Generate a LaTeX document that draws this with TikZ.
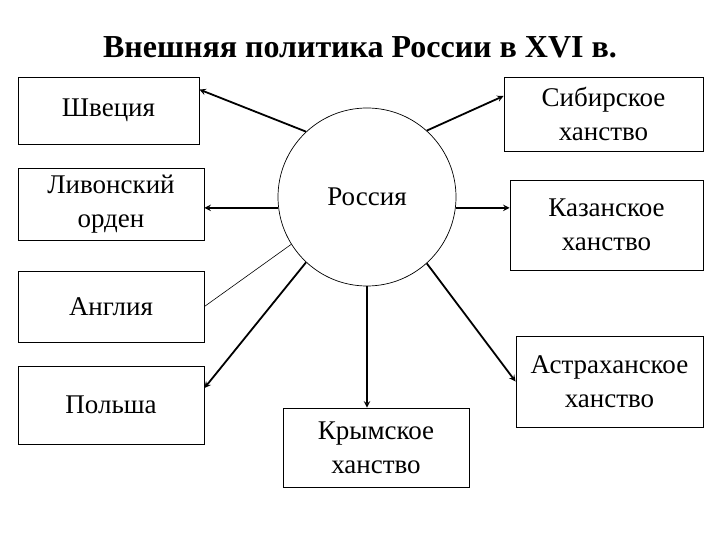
\documentclass[tikz,border=0pt]{standalone}
\usepackage{fontspec}
\setmainfont{Liberation Serif}
\usetikzlibrary{arrows,positioning}

\begin{document}
\begin{tikzpicture}[
  x=1pt, y=-1pt,
  box/.style      = {draw, line width=0.9pt, inner sep=0pt, align=center,
                     font=\fontsize{27}{34}\selectfont},
  arr/.style      = {->, >=stealth, line width=1.8pt},
  thinline/.style = {line width=0.6pt},
]
\useasboundingbox (0,0) rectangle (720,540);
\node[font=\bfseries\fontsize{32}{36}\selectfont] (title) at (360,47)
     {Внешняя политика России в XVI в.};
% centre
\node[circle, draw, line width=0.7pt, minimum size=178pt, inner sep=0pt,
      font=\fontsize{27}{34}\selectfont] (rus) at (367,197) {Россия};
% left column
\node[box, minimum width=181pt, minimum height=67pt] (swe) at (108.5,110.5) {Швеция};
\node[box, minimum width=186pt, minimum height=72pt] (livo) at (111,204) {Ливонский\\орден};
\node[box, minimum width=186pt, minimum height=71pt] (eng) at (111,306.5) {Англия};
\node[box, minimum width=186pt, minimum height=78pt] (pol) at (111,405) {Польша};
% bottom and right
\node[box, minimum width=186pt, minimum height=79pt] (crim) at (376,447.5) {Крымское\\ханство};
\node[box, minimum width=187pt, minimum height=91pt] (astr) at (609.5,381.5) {Астраханское\\ханство};
\node[box, minimum width=199pt, minimum height=74pt] (sib) at (603.5,114) {Сибирское\\ханство};
\node[box, minimum width=193pt, minimum height=90pt] (kaz) at (606.5,225) {Казанское\\ханство};

\draw[arr] (rus.133) -- ([yshift=-13pt]swe.north east);
\draw[arr] (rus.187) -- (rus.187 -| livo.east);
\draw[thinline] (rus.212) -- (eng.east);
\draw[arr] (rus.227) -- ([yshift=17pt]pol.east);
\draw[arr] (rus.south) -- (rus.south |- crim.north);
\draw[arr] (rus.-48) -- (astr.west);
\draw[arr] (rus.-7) -- (rus.-7 -| kaz.west);
\draw[arr] (rus.48) -- ([yshift=18pt]sib.west);
\end{tikzpicture}
\end{document}
